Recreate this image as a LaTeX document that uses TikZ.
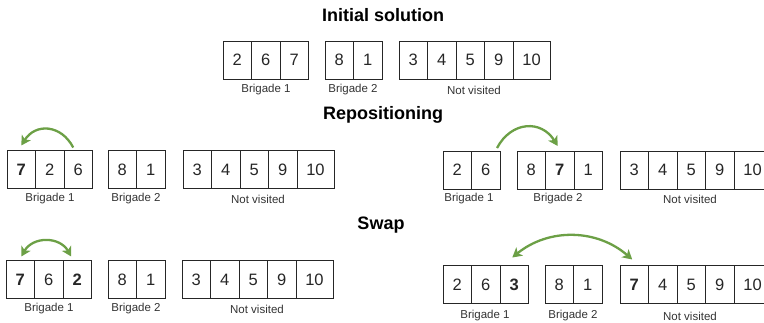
\documentclass[tikz,border=0pt]{standalone}
\usepackage{fontspec}
\setmainfont{Liberation Sans}
\usetikzlibrary{arrows.meta,positioning}
\definecolor{movegreen}{RGB}{108,160,70}
\tikzset{
  cell/.style={draw=black!85, line width=0.9pt, minimum width=28.5pt, minimum height=38pt,
    inner sep=0pt, outer sep=0pt, text=black!85, font=\fontsize{16.5}{19}\selectfont},
  widecell/.style={cell, minimum width=37pt},
  grouplabel/.style={font=\fontsize{11.5}{13}\selectfont, text=black!80, inner sep=1pt},
  heading/.style={font=\fontsize{18}{21}\selectfont\bfseries},
  move/.style={movegreen, line width=2.3pt, -{Stealth[length=9.5pt,width=10.5pt,inset=2.5pt]}},
  twoway/.style={movegreen, line width=2.3pt,
    {Stealth[length=9.5pt,width=10.5pt,inset=2.5pt]}-{Stealth[length=9.5pt,width=10.5pt,inset=2.5pt]}},
}
\begin{document}
\begin{tikzpicture}[x=1pt,y=-1pt]
\useasboundingbox (0,0) rectangle (764,322);

% Headings
\node[heading] (title-init) at (383,15) {Initial solution};
\node[heading] (title-rep) at (383,115) {Repositioning};
\node[heading] (title-swap) at (381,225) {Swap};

% Initial solution
\foreach \v [count=\i] in {2,6,7}
  \node[cell] (init-b1-\i) at ({223+(\i-0.5)*28.5},60) {\v};
\foreach \v [count=\i] in {8,1}
  \node[cell] (init-b2-\i) at ({325+(\i-0.5)*28.5},60) {\v};
\foreach \v [count=\i] in {3,4,5,9}
  \node[cell] (init-nv-\i) at ({399+(\i-0.5)*28.5},60) {\v};
\node[widecell, right=0pt of init-nv-4] (init-nv-5) {10};
\node[grouplabel] (init-l1) at (266,90) {Brigade 1};
\node[grouplabel] (init-l2) at (353,90) {Brigade 2};
\node[grouplabel] (init-l3) at (474,90) {Not visited};

% Repositioning, left
\foreach \v [count=\i] in {{\bfseries 7},2,6}
  \node[cell] (repl-b1-\i) at ({7+(\i-0.5)*28.5},169.5) {\v};
\foreach \v [count=\i] in {8,1}
  \node[cell] (repl-b2-\i) at ({108+(\i-0.5)*28.5},169.5) {\v};
\foreach \v [count=\i] in {3,4,5,9}
  \node[cell] (repl-nv-\i) at ({183+(\i-0.5)*28.5},169.5) {\v};
\node[widecell, right=0pt of repl-nv-4] (repl-nv-5) {10};
\node[grouplabel] (repl-l1) at (50,199) {Brigade 1};
\node[grouplabel] (repl-l2) at (136,199) {Brigade 2};
\node[grouplabel] (repl-l3) at (258,199) {Not visited};
\draw[move] ([xshift=-5pt,yshift=3pt]repl-b1-3.north) to[bend right=60,looseness=1.3] ([yshift=5pt]repl-b1-1.north);

% Repositioning, right
\foreach \v [count=\i] in {2,6}
  \node[cell] (repr-b1-\i) at ({443+(\i-0.5)*28.5},170) {\v};
\foreach \v [count=\i] in {8,{\bfseries 7},1}
  \node[cell] (repr-b2-\i) at ({517+(\i-0.5)*28.5},170) {\v};
\foreach \v [count=\i] in {3,4,5,9}
  \node[cell] (repr-nv-\i) at ({620+(\i-0.5)*28.5},170) {\v};
\node[widecell, right=0pt of repr-nv-4] (repr-nv-5) {10};
\node[grouplabel] (repr-l1) at (469,199) {Brigade 1};
\node[grouplabel] (repr-l2) at (558,199) {Brigade 2};
\node[grouplabel] (repr-l3) at (690,199) {Not visited};
\draw[move] ([xshift=-3pt,yshift=3pt]repr-b1-2.north east) to[bend left=60,looseness=1.3] ([xshift=-2pt,yshift=5pt]repr-b2-2.north);

% Swap, left
\foreach \v [count=\i] in {{\bfseries 7},6,{\bfseries 2}}
  \node[cell] (swpl-b1-\i) at ({6+(\i-0.5)*28.5},279.5) {\v};
\foreach \v [count=\i] in {8,1}
  \node[cell] (swpl-b2-\i) at ({108+(\i-0.5)*28.5},279.5) {\v};
\foreach \v [count=\i] in {3,4,5,9}
  \node[cell] (swpl-nv-\i) at ({182+(\i-0.5)*28.5},279.5) {\v};
\node[widecell, right=0pt of swpl-nv-4] (swpl-nv-5) {10};
\node[grouplabel] (swpl-l1) at (49,309) {Brigade 1};
\node[grouplabel] (swpl-l2) at (136,309) {Brigade 2};
\node[grouplabel] (swpl-l3) at (257,309) {Not visited};
\draw[twoway] ([xshift=1pt,yshift=4pt]swpl-b1-1.north) to[bend left=60,looseness=1.2] ([xshift=-6pt,yshift=4pt]swpl-b1-3.north);

% Swap, right
\foreach \v [count=\i] in {2,6,{\bfseries 3}}
  \node[cell] (swpr-b1-\i) at ({443+(\i-0.5)*28.5},284.5) {\v};
\foreach \v [count=\i] in {8,1}
  \node[cell] (swpr-b2-\i) at ({545+(\i-0.5)*28.5},284.5) {\v};
\foreach \v [count=\i] in {{\bfseries 7},4,5,9}
  \node[cell] (swpr-nv-\i) at ({620+(\i-0.5)*28.5},284.5) {\v};
\node[widecell, right=0pt of swpr-nv-4] (swpr-nv-5) {10};
\node[grouplabel] (swpr-l1) at (485,316) {Brigade 1};
\node[grouplabel] (swpr-l2) at (573,316) {Brigade 2};
\node[grouplabel] (swpr-l3) at (690,316) {Not visited};
\draw[twoway] ([xshift=-2pt,yshift=8pt]swpr-b1-3.north) to[bend left=40] ([xshift=-2pt,yshift=6pt]swpr-nv-1.north);
\end{tikzpicture}
\end{document}
